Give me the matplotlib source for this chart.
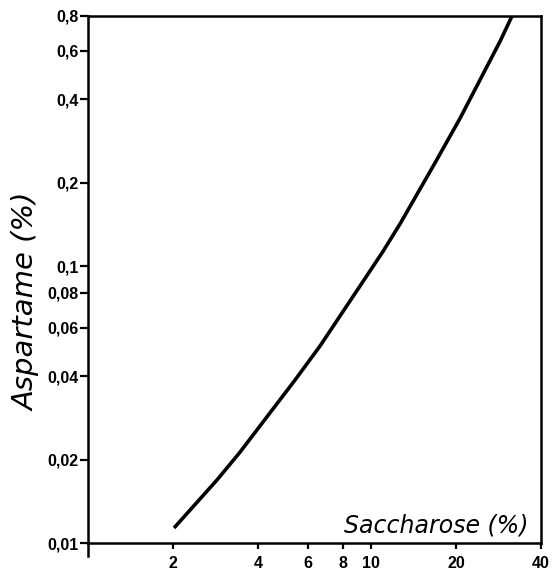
import numpy as np
import matplotlib
matplotlib.use('Agg')
import matplotlib.pyplot as plt

# curve (saccharose % vs aspartame %)
saccharose = [2.015, 2.86, 3.45, 5.40, 6.62, 9.39, 11.05, 12.69, 16.88, 20.7, 28.7, 31.6]
aspartame = [0.01133, 0.0169, 0.0213, 0.0388, 0.0515, 0.088, 0.113, 0.142, 0.236, 0.342, 0.65, 0.8]

x_ticks = [2, 4, 6, 8, 10, 20, 40]
x_labels = ['2', '4', '6', '8', '10', '20', '40']
y_ticks = [0.01, 0.02, 0.04, 0.06, 0.08, 0.1, 0.2, 0.4, 0.6, 0.8]
y_labels = ['0,01', '0,02', '0,04', '0,06', '0,08', '0,1', '0,2', '0,4', '0,6', '0,8']

fig = plt.figure(figsize=(5.58, 5.70), dpi=100)
ax = fig.add_axes([88/558, 1-543/570, 453/558, 527/570])

ax.set_xscale('log')
ax.set_yscale('log')
ax.set_xlim(1, 40)
ax.set_ylim(0.01, 0.8)

ax.plot(saccharose, aspartame, color='black', lw=2.6,
        solid_capstyle='butt', solid_joinstyle='round')

for s in ax.spines.values():
    s.set_linewidth(1.8)
    s.set_color('black')

ax.minorticks_off()
ax.set_xticks(x_ticks)
ax.set_xticklabels(x_labels)
ax.set_yticks(y_ticks)
ax.set_yticklabels(y_labels)
ax.tick_params(axis='y', direction='out', length=6, width=1.6, pad=1,
               labelsize=11.5)
ax.tick_params(axis='x', direction='out', length=4, width=1.6, pad=5,
               labelsize=11.5)
for lab in ax.get_xticklabels() + ax.get_yticklabels():
    lab.set_fontfamily('Liberation Sans')
    lab.set_fontweight('bold')

# left axis runs a little below the x axis, as in the drawing
ax.plot([0, 0], [-0.025, 0], transform=ax.transAxes, color='black',
        lw=1.8, clip_on=False)

ax.set_ylabel('Aspartame (%)', fontsize=21, style='italic')
ax.yaxis.set_label_coords(-0.105, 0.457)
ax.text(0.972, 0.034, 'Saccharose (%)', transform=ax.transAxes,
        ha='right', va='center', fontsize=17, style='italic')

plt.savefig('out.png', dpi=100)
